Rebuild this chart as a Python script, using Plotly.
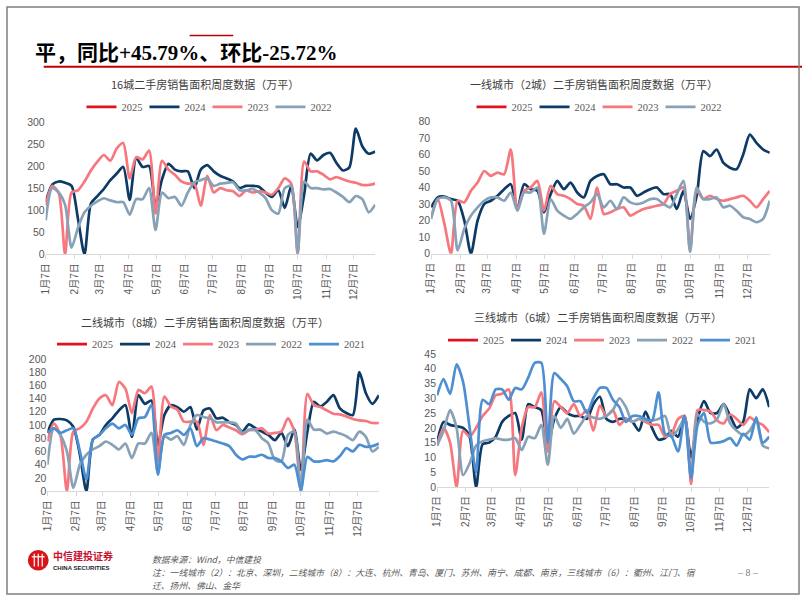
import plotly.graph_objects as go
import pandas as pd

W, H = 802, 602

# ---------------- data ----------------
weeks = pd.date_range("2023-01-07", periods=52, freq="7D")
tick_dates = ["2023-01-07", "2023-02-07", "2023-03-07", "2023-04-07", "2023-05-07", "2023-06-07",
              "2023-07-07", "2023-08-07", "2023-09-07", "2023-10-07", "2023-11-07", "2023-12-07"]
tick_labels = ["1月7日", "2月7日", "3月7日", "4月7日", "5月7日", "6月7日",
               "7月7日", "8月7日", "9月7日", "10月7日", "11月7日", "12月7日"]

years = ["2025", "2024", "2023", "2022", "2021"]
colors = {"2025": "#E3101E", "2024": "#0D3B66", "2023": "#F6777E", "2022": "#87A1B7", "2021": "#4E8FD1"}

# 16城 (2025 has only its first week so far)
tl_2025 = [173]
tl_2024 = [118, 158, 165, 162, 155, 80, 0, 115, 132, 148, 168, 183, 198, 123, 218, 198, 200, 110, 170, 205,
           192, 188, 188, 150, 192, 202, 188, 178, 172, 165, 150, 155, 155, 153, 140, 130, 145, 105, 155, 62,
           135, 228, 213, 225, 230, 207, 190, 197, 285, 245, 228, 233]
tl_2023 = [110, 155, 140, 0, 140, 145, 165, 190, 210, 225, 212, 240, 252, 172, 220, 215, 235, 92, 212, 192,
           180, 165, 160, 160, 110, 178, 140, 150, 145, 143, 132, 145, 140, 143, 140, 135, 150, 172, 160, 0,
           210, 188, 188, 180, 170, 175, 170, 165, 162, 157, 157, 160]
tl_2022 = [77, 150, 140, 112, 15, 60, 95, 110, 120, 127, 122, 118, 118, 90, 125, 125, 150, 55, 140, 127,
           130, 110, 140, 163, 168, 172, 155, 160, 162, 163, 145, 145, 148, 140, 128, 100, 92, 150, 155, 3,
           165, 150, 150, 147, 148, 140, 130, 118, 132, 125, 95, 112]

# 一线城市（2城）
tr_2025 = [45]
tr_2024 = [28, 34, 34.5, 33, 32, 20, 0, 20, 30, 32, 35, 39, 42, 27, 42, 39, 38, 25, 36, 44,
           39, 43, 37, 34, 44, 47, 48, 42, 42, 40, 40, 35, 37, 39, 40, 36, 36, 27, 38, 21,
           35, 62, 59, 63, 55, 52, 51, 60, 72, 67, 63, 61]
tr_2023 = [22, 33, 18, 0, 32, 31, 38, 43, 50, 47, 49, 48, 63, 27, 38, 40, 44, 26, 41, 36,
           35, 33, 30, 29, 21, 40, 24, 25, 27, 28, 23, 25, 27, 28, 29, 30, 36, 38, 40, 2,
           38, 33, 35, 33, 32, 33, 34, 35, 32, 28, 33, 38]
tr_2022 = [21, 33, 34, 32, 2, 15, 23, 28, 32, 34, 34, 32, 37, 26, 37, 37, 40, 12, 33, 26,
           23, 21, 24, 28, 31, 36, 28, 32, 27, 34, 31, 30, 31, 33, 33, 30, 28, 36, 44, 1,
           40, 33, 33, 34, 28, 29, 26, 22, 21, 19, 21, 32]

# 二线城市（8城）
bl_2025 = [108]
bl_2024 = [88, 108, 109, 107, 97, 55, 0, 78, 85, 100, 110, 122, 130, 82, 145, 132, 137, 70, 115, 130,
           127, 120, 127, 93, 122, 125, 110, 111, 104, 100, 90, 101, 95, 90, 85, 77, 88, 68, 93, 32,
           90, 135, 128, 135, 145, 125, 118, 115, 180, 148, 132, 145]
bl_2023 = [75, 102, 85, 0, 90, 95, 105, 125, 140, 145, 130, 165, 155, 118, 153, 148, 158, 45, 143, 128,
           123, 105, 105, 105, 70, 115, 92, 100, 96, 92, 86, 92, 93, 95, 87, 88, 90, 110, 90, 0,
           147, 130, 127, 122, 117, 116, 113, 109, 107, 106, 103, 103]
bl_2022 = [40, 95, 85, 60, 5, 40, 55, 63, 68, 75, 70, 63, 72, 50, 72, 72, 88, 28, 83, 78,
           83, 70, 100, 115, 112, 110, 104, 104, 104, 102, 88, 93, 92, 80, 72, 47, 45, 85, 90, 0,
           108, 93, 93, 87, 90, 87, 83, 77, 90, 82, 60, 67]
bl_2021 = [88, 95, 88, 92, 95, 60, 18, 78, 85, 95, 102, 95, 100, 85, 110, 112, 130, 25, 85, 88,
           92, 85, 95, 68, 80, 78, 75, 72, 68, 55, 48, 52, 52, 55, 50, 50, 45, 35, 40, 2,
           52, 45, 45, 47, 45, 53, 65, 60, 70, 67, 68, 72]

# 三线城市（6城）
br_2025 = [20]
br_2024 = [15, 22, 21, 20.5, 20, 17, 0, 14.5, 15, 17, 22, 24, 25, 16, 28, 27, 26, 14, 23, 27,
           25, 24, 24, 23, 28, 30.5, 23, 22, 23, 23, 22, 19, 25.5, 20, 16, 16.5, 19, 17, 24, 10,
           23, 29, 25, 25, 28, 24, 20, 22, 33, 30, 33, 27]
br_2023 = [14, 20, 15, 0, 19, 17, 20, 24, 26.5, 31, 31.5, 33, 4, 20, 27, 27, 32, 12, 29, 27,
           25, 28, 24, 26, 19, 27.5, 24, 26, 21, 23, 22, 23, 22, 21, 21, 17, 18, 23, 24, 1,
           26, 26, 25.5, 22.5, 21.5, 24.5, 23, 21, 23.5, 22, 21, 18.5]
br_2022 = [14, 19, 26, 20, 4, 8, 14, 15.5, 16, 16.5, 16, 16, 16.5, 12.5, 17, 16.5, 21, 7.5, 24, 20,
           23, 18, 21, 24, 23.5, 23, 24, 26, 30, 27, 22, 23, 22.5, 22.5, 23, 24, 17, 19.5, 23, 3,
           24.5, 22, 21.5, 23, 28, 21.5, 19, 17.5, 19, 22.5, 14, 13]
br_2021 = [31, 36.5, 31.5, 41.5, 35.5, 20, 5, 29.5, 28, 33, 33, 29.5, 33.5, 33, 37, 42, 42, 15, 38.5, 36.5,
           34, 29, 29, 25, 30, 33.5, 33.5, 29.5, 27, 22, 24, 24, 23, 22.5, 32, 18, 17, 12, 24, 3,
           21, 25, 15, 15, 15.5, 16.5, 14, 18, 16, 23.5, 15, 17]

panels = [
    dict(title="16城二手房销售面积周度数据（万平）",
         series={"2025": tl_2025, "2024": tl_2024, "2023": tl_2023, "2022": tl_2022},
         yrange=[0, 300], dtick=50, px_x=(40, 372), px_y=(118.3, 253.3),
         title_xy=(200, 80), legend_xy=(203, 103)),
    dict(title="一线城市（2城）二手房销售面积周度数据（万平）",
         series={"2025": tr_2025, "2024": tr_2024, "2023": tr_2023, "2022": tr_2022},
         yrange=[0, 80], dtick=10, px_x=(428.3, 769.5), px_y=(117.7, 252.7),
         title_xy=(592, 80), legend_xy=(596, 103)),
    dict(title="二线城市（8城）二手房销售面积周度数据（万平）",
         series={"2025": bl_2025, "2024": bl_2024, "2023": bl_2023, "2022": bl_2022, "2021": bl_2021},
         yrange=[0, 200], dtick=20, px_x=(41.7, 375.7), px_y=(360, 495),
         title_xy=(201, 322), legend_xy=(205, 345)),
    dict(title="三线城市（6城）二手房销售面积周度数据（万平）",
         series={"2025": br_2025, "2024": br_2024, "2023": br_2023, "2022": br_2022, "2021": br_2021},
         yrange=[0, 45], dtick=5, px_x=(434.3, 769), px_y=(355, 490.7),
         title_xy=(596, 317), legend_xy=(599, 341)),
]

fig = go.Figure()
annotations = []
shapes = []
layout = {}

for i, p in enumerate(panels):
    n = i + 1
    xa = "xaxis" if n == 1 else f"xaxis{n}"
    ya = "yaxis" if n == 1 else f"yaxis{n}"
    xr = "x" if n == 1 else f"x{n}"
    yr = "y" if n == 1 else f"y{n}"
    lg = "legend" if n == 1 else f"legend{n}"
    for yname, vals in p["series"].items():
        fig.add_trace(go.Scatter(
            x=list(weeks[:len(vals)]), y=vals, name=yname, mode="lines",
            line=dict(color=colors[yname], width=2.7, shape="spline", smoothing=0.7),
            xaxis=xr, yaxis=yr, legend=lg, showlegend=True, hoverinfo="skip"))
    x0, x1 = p["px_x"]
    y0, y1 = p["px_y"]
    layout[xa] = dict(domain=[x0 / W, x1 / W], anchor=yr, type="date",
                      range=[weeks[0], weeks[-1]], tickvals=tick_dates, ticktext=tick_labels,
                      tickangle=-90, showline=True, linecolor="#D9D9D9", linewidth=1,
                      ticks="outside", ticklen=4, tickcolor="#D9D9D9", showgrid=False, zeroline=False,
                      tickfont=dict(family="Liberation Sans, Noto Sans CJK SC", size=10, color="#595959"))
    layout[ya] = dict(domain=[1 - y1 / H, 1 - y0 / H], anchor=xr, range=p["yrange"], dtick=p["dtick"],
                      showline=False, showgrid=False, zeroline=False, ticks="",
                      tickfont=dict(family="Liberation Sans", size=10.5, color="#595959"))
    layout[lg] = dict(orientation="h", x=p["legend_xy"][0] / W, y=1 - p["legend_xy"][1] / H,
                      xanchor="center", yanchor="middle", bgcolor="rgba(0,0,0,0)",
                      font=dict(family="Liberation Serif", size=10.5, color="#595959"),
                      itemwidth=30, tracegroupgap=0, entrywidth=18, entrywidthmode="pixels")
    annotations.append(dict(text=p["title"], x=p["title_xy"][0] / W, y=1 - p["title_xy"][1] / H,
                            xref="paper", yref="paper", xanchor="center", yanchor="middle",
                            showarrow=False,
                            font=dict(family="Noto Sans CJK SC", size=11, color="#404040")))

# header
annotations.append(dict(text="<b>平，同比+45.79%、环比-25.72%</b>", x=27 / W, y=1 - 48 / H,
                        xref="paper", yref="paper", xanchor="left", yanchor="middle", showarrow=False,
                        font=dict(family="Liberation Serif, Noto Sans CJK SC", size=21, color="#000000")))
shapes.append(dict(type="line", xref="paper", yref="paper", x0=185 / W, x1=229 / W,
                   y0=1 - 30 / H, y1=1 - 30 / H, line=dict(color="#C00000", width=1.5)))
shapes.append(dict(type="line", xref="paper", yref="paper", x0=38 / W, x1=1,
                   y0=1 - 62 / H, y1=1 - 62 / H, line=dict(color="#C00000", width=2)))
# slide frame
shapes.append(dict(type="rect", xref="paper", yref="paper", x0=1 / W, x1=799 / W,
                   y0=1 - 600 / H, y1=1 - 1 / H, line=dict(color="#7F7F7F", width=1.5)))

# footer logo
shapes.append(dict(type="circle", xref="paper", yref="paper", x0=22 / W, x1=43 / W,
                   y0=1 - 576 / H, y1=1 - 555 / H, fillcolor="#D7141A", line=dict(width=0)))
for lx in (28.5, 32.5, 36.5):
    shapes.append(dict(type="line", xref="paper", yref="paper", x0=lx / W, x1=lx / W,
                       y0=1 - 572 / H, y1=1 - 559 / H, line=dict(color="#FFFFFF", width=1.2)))
shapes.append(dict(type="line", xref="paper", yref="paper", x0=26 / W, x1=39 / W,
                   y0=1 - 562 / H, y1=1 - 562 / H, line=dict(color="#FFFFFF", width=1.2)))
annotations.append(dict(text="<b>中信建投证券</b>", x=45 / W, y=1 - 561 / H, xref="paper", yref="paper",
                        xanchor="left", yanchor="middle", showarrow=False,
                        font=dict(family="Noto Sans CJK SC", size=10, color="#C8102E")))
annotations.append(dict(text="<b>CHINA SECURITIES</b>", x=45 / W, y=1 - 573 / H, xref="paper", yref="paper",
                        xanchor="left", yanchor="middle", showarrow=False,
                        font=dict(family="Liberation Sans", size=6, color="#222222")))
foot_font = dict(family="Noto Sans CJK SC", size=8.8, color="#595959", style="italic")
annotations.append(dict(text="数据来源：Wind，中信建投", x=145 / W, y=1 - 565 / H, xref="paper", yref="paper",
                        xanchor="left", yanchor="middle", showarrow=False, font=foot_font))
annotations.append(dict(text="注：一线城市（2）：北京、深圳，二线城市（8）：大连、杭州、青岛、厦门、苏州、南宁、成都、南京，三线城市（6）：衢州、江门、宿",
                        x=145 / W, y=1 - 578 / H, xref="paper", yref="paper",
                        xanchor="left", yanchor="middle", showarrow=False, font=foot_font))
annotations.append(dict(text="迁、扬州、佛山、金华", x=145 / W, y=1 - 591 / H, xref="paper", yref="paper",
                        xanchor="left", yanchor="middle", showarrow=False, font=foot_font))
annotations.append(dict(text="– 8 –", x=748 / W, y=1 - 578 / H, xref="paper", yref="paper",
                        xanchor="center", yanchor="middle", showarrow=False,
                        font=dict(family="Liberation Serif", size=10, color="#7F7F7F")))

fig.update_layout(width=W, height=H, margin=dict(l=0, r=0, t=0, b=0),
                  paper_bgcolor="#FFFFFF", plot_bgcolor="rgba(0,0,0,0)",
                  annotations=annotations, shapes=shapes, **layout)

fig.write_html("out.html", config={"displayModeBar": False},
               post_script="document.body.style.margin='0';document.body.style.overflow='hidden';")
